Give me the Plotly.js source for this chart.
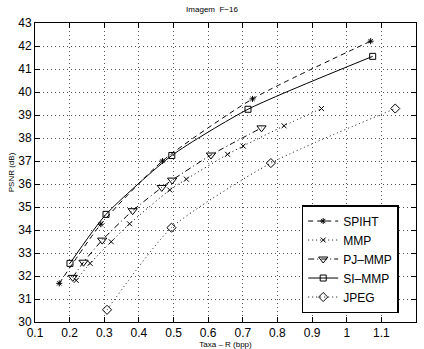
<!DOCTYPE html>
<html><head><meta charset="utf-8">
<script src="https://cdn.plot.ly/plotly-3.0.1.min.js"></script>
<style>html,body{margin:0;padding:0;background:#fff}#chart{width:424px;height:349px}</style>
</head><body><div id="chart"></div>
<script>
const spihtX = [0.170, 0.290, 0.468, 0.728, 1.069];
const spihtY = [31.68, 34.25, 37.00, 39.70, 42.21];
const mmpX = [0.219, 0.259, 0.320, 0.373, 0.489, 0.537, 0.656, 0.701, 0.819, 0.927];
const mmpY = [31.81, 32.55, 33.49, 34.27, 35.74, 36.21, 37.29, 37.65, 38.53, 39.28];
const pjX = [0.209, 0.240, 0.294, 0.382, 0.466, 0.496, 0.608, 0.754];
const pjY = [31.94, 32.60, 33.56, 34.84, 35.85, 36.17, 37.26, 38.44];
const siX = [0.201, 0.305, 0.495, 0.715, 1.075];
const siY = [32.55, 34.68, 37.24, 39.25, 41.55];
const jpegX = [0.308, 0.494, 0.781, 1.140];
const jpegY = [30.53, 34.10, 36.91, 39.28];
const names = ['SPIHT', 'MMP', 'PJ\u2013MMP', 'SI\u2013MMP', 'JPEG'];
const xTicks = [0.1, 0.2, 0.3, 0.4, 0.5, 0.6, 0.7, 0.8, 0.9, 1, 1.1, 1.2];
const xTickText = ['0.1', '0.2', '0.3', '0.4', '0.5', '0.6', '0.7', '0.8', '0.9', '1', '1.1', '1.2'];
const yTicks = [30, 31, 32, 33, 34, 35, 36, 37, 38, 39, 40, 41, 42, 43];

function tr(x, y, name, dash, symbol, size) {
  return {x: x, y: y, name: name, type: 'scatter', mode: 'lines+markers',
    line: {color: '#000', width: 1, dash: dash, shape: 'spline', smoothing: 0.6},
    marker: {symbol: symbol, size: size, color: '#000', line: {color: '#000', width: 1}}};
}
const data = [
  tr(spihtX, spihtY, names[0], '5px,4px', 'asterisk-open', 5),
  tr(mmpX, mmpY, names[1], '1px,3px', 'x-thin-open', 5),
  tr(pjX, pjY, names[2], '6px,3px,1px,3px', 'triangle-down-open', 8),
  tr(siX, siY, names[3], 'solid', 'square-open', 6),
  tr(jpegX, jpegY, names[4], '1px,3px', 'diamond-open', 7)
];
const axisCommon = {showline: true, mirror: 'ticks', linecolor: '#000', linewidth: 1,
  ticks: 'inside', ticklen: 5, tickcolor: '#000', zeroline: false,
  showgrid: true, gridcolor: '#555', griddash: '1px,3px', gridwidth: 1,
  tickfont: {family: 'Liberation Sans, Arial, sans-serif', size: 12, color: '#000'}};
const layout = {
  width: 424, height: 349,
  margin: {l: 35, r: 8, t: 23, b: 27},
  paper_bgcolor: '#fff', plot_bgcolor: '#fff',
  title: {text: 'Imagem  F\u221216', font: {family: 'Liberation Sans, Arial, sans-serif', size: 8, color: '#000'}, x: 0.5, xanchor: 'center', y: 0.975, yanchor: 'middle'},
  xaxis: Object.assign({}, axisCommon, {range: [0.1, 1.2], tickvals: xTicks, ticktext: xTickText,
    title: {text: 'Taxa \u2013 R (bpp)', standoff: 2, font: {family: 'Liberation Sans, Arial, sans-serif', size: 8, color: '#000'}}}),
  yaxis: Object.assign({}, axisCommon, {range: [30, 43], tickvals: yTicks,
    title: {text: 'PSNR (dB)', standoff: 2, font: {family: 'Liberation Sans, Arial, sans-serif', size: 8, color: '#000'}}}),
  showlegend: true,
  legend: {x: 0.70, y: 0.03, xanchor: 'left', yanchor: 'bottom', bgcolor: '#fff',
    bordercolor: '#000', borderwidth: 1.5, itemwidth: 30, tracegroupgap: 0,
    font: {family: 'Liberation Sans, Arial, sans-serif', size: 12, color: '#000'}}
};
Plotly.newPlot('chart', data, layout, {displayModeBar: false, staticPlot: true});
</script></body></html>
